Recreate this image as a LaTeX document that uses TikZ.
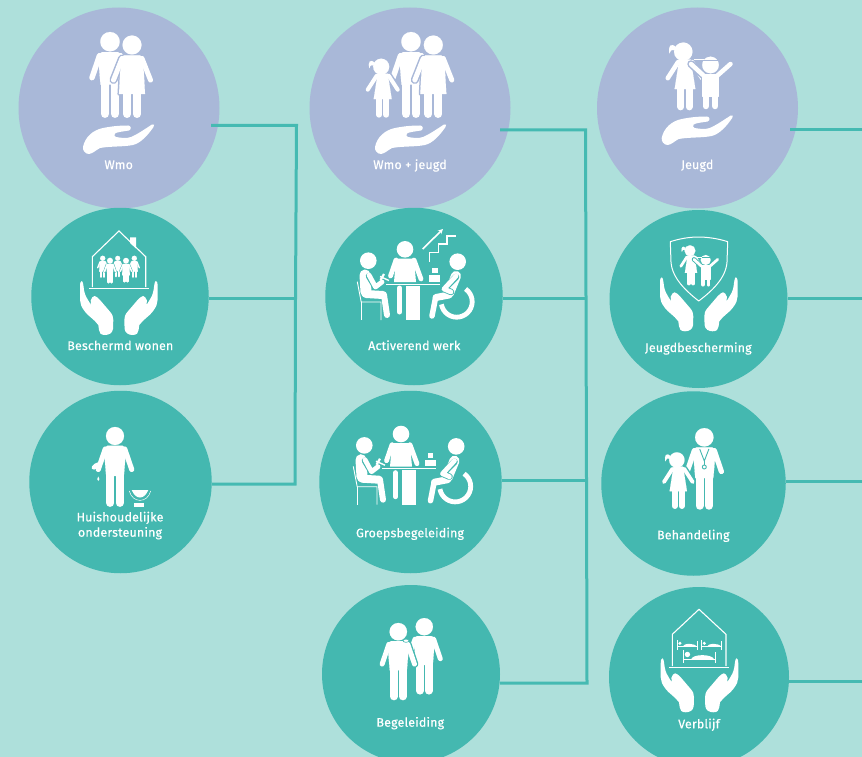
\documentclass[tikz,border=0pt]{standalone}
\usepackage{fontspec}
\newfontfamily\lblfont[FakeBold=0.5,LetterSpace=1.5]{Fira Sans}
\usetikzlibrary{arrows.meta}
\definecolor{bgc}{HTML}{AEE0DB}
\definecolor{lav}{HTML}{A9B8D8}
\definecolor{tealc}{HTML}{44B8B0}
\definecolor{linec}{HTML}{45BAB2}
\tikzset{
  lavnode/.style={circle,fill=lav,inner sep=0pt,minimum size=#1},
  tealnode/.style={circle,fill=tealc,inner sep=0pt,minimum size=#1},
  lbl/.style={text=white,font=\fontsize{12.4}{15.3}\selectfont\lblfont,anchor=base,inner sep=0pt,align=center},
  conn/.style={draw=linec,line width=3pt,line join=miter},
  fig/.style={draw=\hc,fill=\hc,line join=round,line cap=round,line width=\hx*\sc*1pt+.1pt},
  limb/.style={draw=\hc,line cap=round,line join=round,line width=(#1+\hx)*\sc*1pt},
  thin white/.style={draw=white,line width=#1,line cap=butt}
}
% ---- person shapes; local unit, y down, origin near the head centre
\newcommand{\ManP}{%
  \fill[fig] (0,0) circle[radius=9.7];
  \fill[fig] (-8,10.5) -- (8,10.5) -- (12,13) -- (9.5,43) -- (-9.5,43) -- (-12,13) -- cycle;
  \draw[limb=5.5] (-10.5,14) -- (-18,36);
  \draw[limb=5.5] (10.5,14) -- (18,36);
  \draw[limb=8.5] (-5,42) -- (-5,72);
  \draw[limb=8.5] (5,42) -- (5,72);
}
\newcommand{\WomanP}{%
  \fill[fig] (0,0) circle[radius=9.5];
  \fill[fig] (-8,10.5) -- (8,10.5) -- (11,13) -- (13,49) -- (-13,49) -- (-11,13) -- cycle;
  \draw[limb=5] (-10,13.5) -- (-18.5,35);
  \draw[limb=5] (10,13.5) -- (18.5,35);
  \draw[limb=8] (-5,48) -- (-5,69);
  \draw[limb=8] (5,48) -- (5,69);
}
\newcommand{\GirlP}{%
  \fill[fig] (-1.5,0) circle[radius=8];
  \fill[fig] (-8,-4) .. controls (-12,-8) and (-15,-5) .. (-13.5,1.5) .. controls (-12,-2) .. (-8,-1) -- cycle;
  \fill[fig] (-5,7) -- (5,7) -- (9,32.5) -- (-9,32.5) -- cycle;
  \draw[limb=4] (-6,9) -- (-15,23);
  \draw[limb=4] (6,9) -- (15,23);
  \draw[limb=6] (-3.6,32) -- (-3.6,48);
  \draw[limb=6] (3.6,32) -- (3.6,48);
}
\newcommand{\BoyP}{%
  \fill[fig] (0,0) circle[radius=8.3];
  \fill[fig] (-8,9) -- (8,9) -- (8,31) -- (-8,31) -- cycle;
  \draw[limb=4.5] (-7,10.5) -- (-19.5,-1);
  \draw[limb=4.5] (7,10.5) -- (20,-1);
  \draw[limb=6.5] (-4.7,30) -- (-4.7,41);
  \draw[limb=6.5] (4.7,30) -- (4.7,41);
}
\newcommand{\Man}[4]{\begin{scope}[shift={(#1,#2)},x=#3pt,y=-#3pt]\def\sc{#3}\def\hc{#4}\def\hx{3}\ManP\def\hc{white}\def\hx{0}\ManP\end{scope}}
\newcommand{\Woman}[4]{\begin{scope}[shift={(#1,#2)},x=#3pt,y=-#3pt]\def\sc{#3}\def\hc{#4}\def\hx{3}\WomanP\def\hc{white}\def\hx{0}\WomanP\end{scope}}
\newcommand{\Girl}[4]{\begin{scope}[shift={(#1,#2)},x=#3pt,y=-#3pt]\def\sc{#3}\def\hc{#4}\def\hx{3}\GirlP\def\hc{white}\def\hx{0}\GirlP\end{scope}}
\newcommand{\Boy}[4]{\begin{scope}[shift={(#1,#2)},x=#3pt,y=-#3pt]\def\sc{#3}\def\hc{#4}\def\hx{3}\BoyP\def\hc{white}\def\hx{0}\BoyP
  \draw[draw=#4,line width=#3*1.1pt] (-9,-4.2) -- (9,-4.2);
  \draw[white,line width=#3*1pt] (-17,-5.2) -- (-7,-5.2);
\end{scope}}
% ---- hands
\newcommand{\HandUp}[2]{\fill[white,shift={(#1,#2)}]
  (0,23) .. controls (2,13) and (10,6) .. (20,4) .. controls (30,2) and (38,1.5) .. (45,1.5)
  .. controls (48,1.5) and (49,5) .. (46,6.5) .. controls (40,7.5) and (34,8) .. (32,9.5)
  .. controls (31,11) and (31,12.5) .. (33,13) .. controls (38,14) and (44,14.5) .. (48,13)
  .. controls (55,10) and (62,5) .. (69,0.5) .. controls (71,-0.5) and (72,1) .. (70.5,3)
  .. controls (65,11) and (58,19) .. (50,21) .. controls (40,23) and (28,22) .. (17,24)
  .. controls (13,26) and (10,29.5) .. (6,30) .. controls (2,30) and (-0.5,26) .. (0,23) -- cycle;}
\newcommand{\SideHand}{%
  \fill[white] (1.7,0) .. controls (3,0) and (3.5,5) .. (4,9) .. controls (5,14) and (6.5,17) .. (8.3,19.5)
  .. controls (9.5,21.5) and (11,24) .. (12.7,26) .. controls (11.5,24) and (10,22) .. (10.7,19.5)
  .. controls (11.5,17) and (13,15) .. (14.5,15) .. controls (16,15) and (18,17) .. (20,19)
  -- (30,30.7) .. controls (32.5,33.5) and (33.3,36) .. (33.3,39) -- (33,48)
  .. controls (32.5,52) and (29,54) .. (25,54) .. controls (21,54) and (19,52) .. (19,49)
  -- (18.3,44) .. controls (14,38) and (8,35) .. (5,30.7) .. controls (1.5,26) and (0,23) .. (0,19)
  -- (0,5.7) .. controls (0,2) and (0.5,0) .. (1.7,0) -- cycle;}
\newcommand{\TwoHands}[2]{%
  \begin{scope}[shift={(#1-38.8,#2)}]\SideHand\end{scope}
  \begin{scope}[shift={(#1+38.8,#2)},x=-1pt]\SideHand\end{scope}}
% ---- seated group at a table, drawn at the coordinates of "Activerend werk"
\newcommand{\TableScene}[3]{\begin{scope}[shift={(#1,#2)}]
  \def\sc{1}\def\hx{0}\def\hc{white}
  % chair
  \draw[thin white=.9pt] (357.3,281.7) -- (361.2,302) -- (381,302) -- (381,320);
  \draw[thin white=.9pt] (361.2,302) -- (361.2,320);
  % left person
  \fill[white] (368.3,260.7) circle[radius=8.3];
  \draw[limb=11] (365,275) -- (366,292);
  \draw[limb=8] (366,294) -- (383,295);
  \draw[limb=6] (384,295) -- (387,315);
  \draw[tealc,line width=6.5pt,line cap=round,line join=round] (369,276) -- (375.5,287) -- (382,282);
  \draw[limb=4.8] (369,275) -- (375.5,287) -- (382,282);
  % hammer
  \draw[white,line width=1.4pt] (380,276.5) -- (389,280.5);
  \draw[white,line width=2.2pt] (384,274) -- (380.5,280);
  % middle person
  \fill[white] (405,249.3) circle[radius=8.3];
  \fill[white] (396,258.5) -- (414,258.5) -- (416,282) -- (394,282) -- cycle;
  \draw[limb=4.8] (396,260) -- (390.5,276);
  \draw[limb=4.8] (414,260) -- (421,279);
  % table
  \draw[thin white=1pt] (386,284.2) -- (440,284.2);
  \draw[limb=5] (399.5,288) -- (399.5,312);
  \fill[white] (406,285.5) rectangle (420,320);
  % right person
  \begin{scope}[xshift=#3pt]
  \fill[white] (457.7,261.7) circle[radius=8.3];
  \draw[white,line width=4.8pt] (456.7,301.7) ++(-55:15.5) arc[start angle=-55,end angle=170,radius=15.5];
  \draw[limb=10] (456,276) -- (449,293);
  \draw[limb=7] (449,295) -- (436,297.5);
  \draw[limb=5.5] (435.5,298) -- (432,316);
  \draw[tealc,line width=6.5pt,line cap=round,line join=round] (456,277) -- (444,289) -- (451,292);
  \draw[limb=4.8] (456,276) -- (444,289) -- (451,292);
  \end{scope}
\end{scope}}
% ---- bed
\newcommand{\Bed}[4]{\begin{scope}[shift={(#1,#2)}]
  \draw[thin white=.7pt] (0,0) -- (0,#4);
  \draw[thin white=.7pt] (#3,.15*#4) -- (#3,#4);
  \draw[thin white=.7pt] (0,.72*#4) -- (#3,.72*#4);
  \fill[white] (.13*#3,.35*#4) circle[radius=.085*#3];
  \fill[white] (.25*#3,.72*#4) .. controls (.3*#3,.3*#4) and (.9*#3,.3*#4) .. (.97*#3,.72*#4) -- cycle;
\end{scope}}
\begin{document}
\begin{tikzpicture}[x=1pt,y=-1pt]
\fill[bgc] (0,0) rectangle (862,757);
\useasboundingbox (0,0) rectangle (862,757);
% junctions and free ends
\coordinate (wmoOut) at (211,125.5);
\coordinate (jA) at (296.5,125.5);
\coordinate (jB) at (295.5,298);
\coordinate (jC) at (295,484);
\coordinate (wjOut) at (500,130);
\coordinate (jD) at (585.5,130);
\coordinate (jE) at (586,298);
\coordinate (jF) at (586.5,480);
\coordinate (jG) at (587,683);
\coordinate (jeOut) at (790,130);
\coordinate (r1) at (862,130);
\coordinate (r2) at (862,298);
\coordinate (r3) at (862,481);
\coordinate (r4) at (862,681);
% circles
\node[lavnode=201pt] (wmo) at (119,108) {};
\node[tealnode=177.5pt] (bw) at (120,296.5) {};
\node[tealnode=182.5pt] (hu) at (120.5,482) {};
\node[lavnode=201pt] (wj) at (410,108) {};
\node[tealnode=177.5pt] (aw) at (414,296.5) {};
\node[tealnode=182.5pt] (gb) at (410.5,482) {};
\node[tealnode=178pt] (be) at (411,674) {};
\node[lavnode=201pt] (je) at (697.5,108) {};
\node[tealnode=178pt] (jb) at (698.5,299) {};
\node[tealnode=184.5pt] (bh) at (693.5,483.5) {};
\node[tealnode=180pt] (vb) at (699,677) {};
% connectors
\draw[conn] (wmoOut) -- (jA) -- (jB) -- (jC) -- (hu.east |- jC);
\draw[conn] (bw.east |- jB) -- (jB);
\draw[conn] (wjOut) -- (jD) -- (jE) -- (jF) -- (jG) -- (be.east |- jG);
\draw[conn] (aw.east |- jE) -- (jE);
\draw[conn] (gb.east |- jF) -- (jF);
\draw[conn] (jeOut) -- (r1);
\draw[conn] (jb.east |- r2) -- (r2);
\draw[conn] (bh.east |- r3) -- (r3);
\draw[conn] (vb.east |- r4) -- (r4);
% labels
\node[lbl] (tWmo) at (118.7,169) {Wmo};
\node[lbl] (tWj) at (410,169) {Wmo + jeugd};
\node[lbl] (tJe) at (697.3,169) {Jeugd};
\node[lbl] (tBw) at (120.3,350) {Beschermd wonen};
\node[lbl] (tAw) at (414.3,350) {Activerend werk};
\node[lbl] (tJb) at (698.3,352) {Jeugdbescherming};
\node[lbl] (tHu) at (120,536.7) {Huishoudelijke\\ondersteuning};
\node[lbl] (tGb) at (410,537.3) {Groepsbegeleiding};
\node[lbl] (tBh) at (693.3,539.3) {Behandeling};
\node[lbl] (tBe) at (410.3,726.7) {Begeleiding};
\node[lbl] (tVb) at (699,728.3) {Verblijf};
% Wmo icon
\Man{110}{41.7}{1}{lav}
\Woman{132}{45}{1}{lav}
\HandUp{83}{124}
% Wmo + jeugd icon
\Man{411}{41.7}{1}{lav}
\Girl{382.7}{66.7}{1}{lav}
\Woman{433.3}{45}{1}{lav}
\HandUp{375}{124}
% Jeugd icon
\Girl{685}{51.7}{1.15}{lav}
\Boy{710.5}{65}{1}{lav}
\HandUp{661.7}{115}
% Beschermd wonen icon
\draw[white,line width=1.1pt,line join=miter] (92.3,287) -- (92.3,256.7) -- (119,231) -- (145.7,256.7) -- (145.7,287);
\fill[white] (130,237.3) -- (136,237.3) -- (136,248.5) -- (130,243) -- cycle;
\draw[white,line width=1.6pt] (89,288.5) -- (149,288.5);
\Woman{102.7}{258.3}{.27}{tealc}
\Woman{117.7}{258.3}{.26}{tealc}
\Woman{134.3}{258.3}{.27}{tealc}
\Man{110}{260.7}{.3}{tealc}
\Woman{126}{260.7}{.3}{tealc}
\TwoHands{118.8}{281}
% Huishoudelijke ondersteuning icon
\Man{115}{436}{.93}{tealc}
\fill[white,rotate around={35:(96,466)}] (96,466) ellipse[x radius=5,y radius=2.7];
\fill[white] (98.3,476.5) .. controls (99.5,478.5) and (100,480) .. (98.3,481) .. controls (96.6,480) and (97.1,478.5) .. (98.3,476.5) -- cycle;
\fill[white] (131.7,490) -- (148.3,490) .. controls (146,495.5) and (143,497.5) .. (140,497.5) .. controls (137,497.5) and (134,495.5) .. (131.7,490) -- cycle;
\fill[white] (134.3,503) rectangle (144.3,506.5);
\draw[white,line width=.5pt] (129.3,491) .. controls (132.5,503.5) and (147.5,503.5) .. (150.7,491);
% Activerend werk icon
\TableScene{0}{0}{0}
\fill[white] (431.7,268.3) rectangle (438.3,273.3);
\fill[white] (429.3,275) rectangle (440,281.7);
\draw[white,line width=1.6pt] (429.3,261.7) -- (429.3,252.3) -- (438.3,252.3) -- (438.3,244) -- (446.7,244) -- (446.7,236) -- (456,236);
\draw[white,line width=1.6pt,-{Stealth[length=5pt,width=5pt]}] (422.7,249) -- (443,229);
% Groepsbegeleiding icon
\TableScene{-4}{184.7}{2.5}
\fill[white] (427.7,453.3) rectangle (433.3,457.7);
\fill[white] (425,460) rectangle (436,465.7);
% Begeleiding icon
\Man{424.3}{626.7}{.89}{tealc}
\Man{398.3}{631.7}{.9}{tealc}
\fill[white,draw=tealc,line width=.6pt] (406,640.7) ellipse[x radius=3,y radius=1.6];
% Jeugdbescherming icon
\draw[white,line width=1pt,line join=round] (670.3,241.7) .. controls (680,238.5) and (690,237) .. (698.3,237)
  .. controls (707,237) and (718,238.5) .. (727.7,241.7) -- (727,262)
  .. controls (726,278) and (712,291) .. (698.7,301) .. controls (686,291) and (672,278) .. (671,262) -- cycle;
\Girl{691}{250.7}{.68}{tealc}
\Boy{705.7}{260}{.6}{tealc}
\TwoHands{698.8}{277.3}
% Behandeling icon
\Man{704.3}{437.3}{.95}{tealc}
\Girl{678.3}{460}{.96}{tealc}
\draw[tealc,line width=.9pt] (699.7,449) -- (704.3,461) -- (708.9,449);
\draw[tealc,line width=.9pt] (704.3,461) -- (704.3,465);
\fill[white,draw=tealc,line width=.9pt] (704.3,467) circle[radius=2];
% Verblijf icon
\draw[white,line width=1.1pt,line join=miter] (672.3,666) -- (672.3,634.3) -- (699,609.3) -- (726,634.3) -- (726,666);
\draw[white,line width=1.6pt] (669.3,667.5) -- (729.3,667.5);
\Bed{677.3}{640}{20}{9.5}
\Bed{701.7}{640}{20}{9.5}
\Bed{683.3}{650}{31.7}{12.7}
\TwoHands{699.5}{658.3}
\end{tikzpicture}
\end{document}
